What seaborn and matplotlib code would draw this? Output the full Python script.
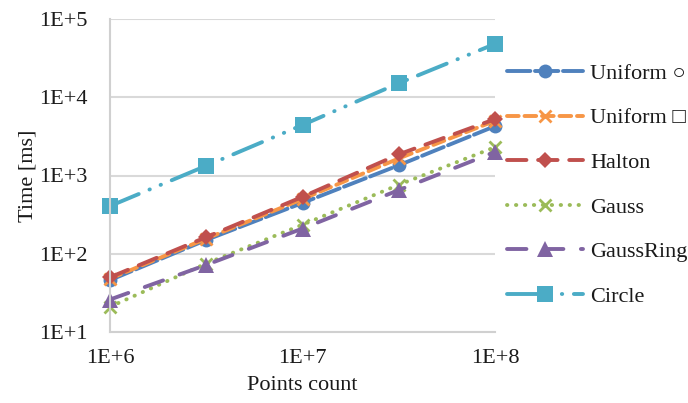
import numpy as np
import pandas as pd
import matplotlib
matplotlib.use("Agg")
import matplotlib.pyplot as plt
import seaborn as sns

points = [1e6, 3.16e6, 1e7, 3.16e7, 1e8]
series_names = ["Uniform ○", "Uniform □", "Halton", "Gauss", "GaussRing", "Circle"]
uniform_circle = [46, 150, 446, 1350, 4270]
uniform_square = [48, 156, 500, 1650, 5000]
halton = [50, 163, 534, 1860, 5250]
gauss = [21, 75, 235, 760, 2300]
gauss_ring = [26, 72, 210, 650, 2000]
circle = [407, 1330, 4420, 15100, 48000]
y_tick_labels = ["1E+1", "1E+2", "1E+3", "1E+4", "1E+5"]
x_tick_labels = ["1E+6", "1E+7", "1E+8"]

values = [uniform_circle, uniform_square, halton, gauss, gauss_ring, circle]
df = pd.DataFrame({
    "Points count": np.tile(points, len(series_names)),
    "Time": np.concatenate(values),
    "Series": np.repeat(series_names, len(points)),
})

colors = ["#4F81BD", "#F79646", "#C0504D", "#9BBB59", "#8064A2", "#4BACC6"]
markers = ["o", "x", "D", "x", "^", "s"]
msizes = [10, 8, 8, 8, 11, 11]
dashes = [(6, 1.2), (3, 1.5), (5, 3), (0.1, 2.2), (5, 4.5), (8, 3, 0.1, 3, 0.1, 3)]

sns.set_theme(style="white")
plt.rcParams["font.family"] = ["Liberation Serif", "DejaVu Sans"]

fig = plt.figure(figsize=(6.88, 4.03), dpi=100)
ax = fig.add_axes([110/688, 1-332/403, 385/688, 313/403])

for i, name in enumerate(series_names):
    sub = df[df["Series"] == name]
    sns.lineplot(data=sub, x="Points count", y="Time", ax=ax, color=colors[i],
                 marker=markers[i], markersize=msizes[i], markeredgewidth=2 if markers[i] == "x" else 0,
                 markeredgecolor=colors[i], linewidth=2.8, label=name,
                 dashes=False)
    line = ax.lines[-1]
    line.set_dashes(dashes[i])
    line.set_dash_capstyle("round")

ax.set_xscale("log")
ax.set_yscale("log")
ax.set_xlim(1e6, 1e8)
ax.set_ylim(1e1, 1e5)
ax.set_xticks([1e6, 1e7, 1e8])
ax.set_xticklabels(x_tick_labels)
ax.set_yticks([1e1, 1e2, 1e3, 1e4, 1e5])
ax.set_yticklabels(y_tick_labels)
ax.minorticks_off()
ax.tick_params(axis="both", length=0, labelsize=16, colors="#1a1a1a")
ax.tick_params(axis="y", pad=16)
ax.tick_params(axis="x", pad=12)
ax.yaxis.grid(True, color="#D9D9D9", linewidth=1.5)
ax.xaxis.grid(False)
for s in ["top", "right"]:
    ax.spines[s].set_visible(False)
for s in ["left", "bottom"]:
    ax.spines[s].set_color("#D0D0D0")
    ax.spines[s].set_linewidth(1.5)
ax.set_xlabel("Points count", fontsize=16, color="#1a1a1a", labelpad=6)
ax.set_ylabel("Time [ms]", fontsize=16, color="#1a1a1a", labelpad=1)
for l in ax.lines:
    l.set_clip_on(False)

leg = ax.legend(loc="center left", bbox_to_anchor=(507/688, 1-185/403),
                bbox_transform=fig.transFigure, frameon=False, fontsize=16,
                handlelength=3.4, handletextpad=0.35, labelspacing=1.08,
                borderpad=0, borderaxespad=0)
for t in leg.get_texts():
    t.set_color("#1a1a1a")
fig.savefig("out.png", dpi=100)
